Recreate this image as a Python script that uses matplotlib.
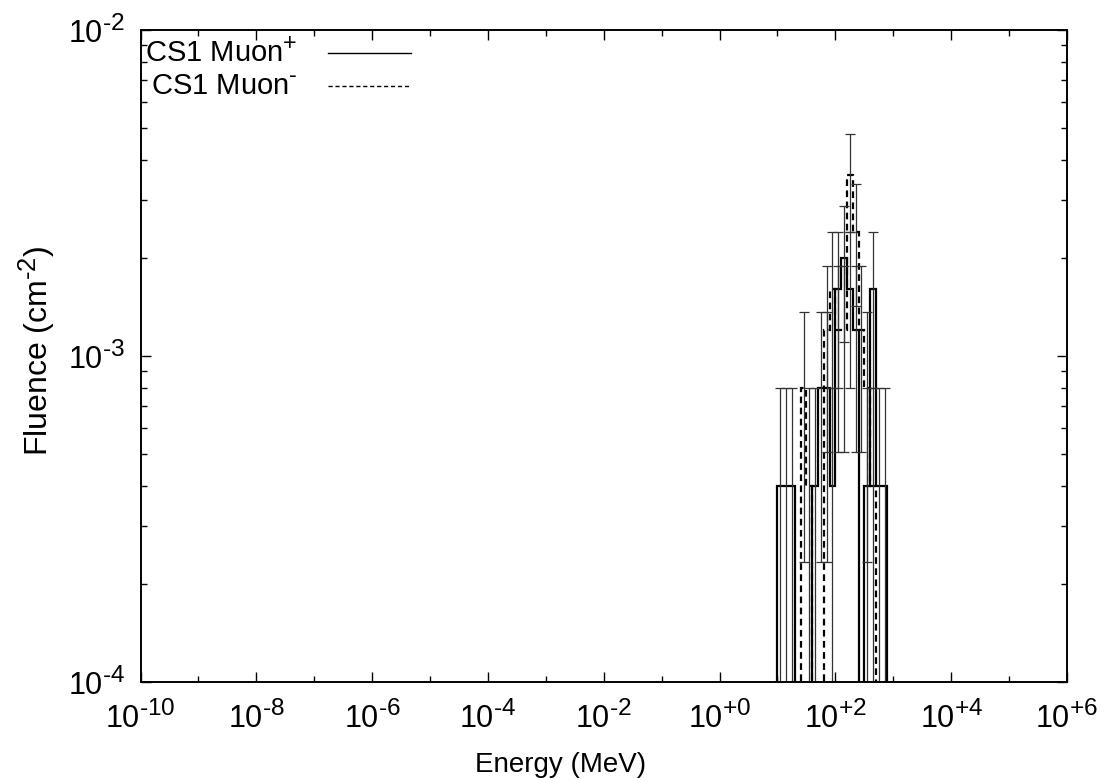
import numpy as np
import matplotlib
matplotlib.use("Agg")
import matplotlib.pyplot as plt
import matplotlib._mathtext as mathtext_impl
from matplotlib.ticker import FixedLocator, FuncFormatter, NullFormatter

plt.rcParams['font.family'] = ['Liberation Sans', 'DejaVu Sans']
plt.rcParams['mathtext.fontset'] = 'custom'
plt.rcParams['mathtext.rm'] = 'Liberation Sans'
plt.rcParams['mathtext.it'] = 'Liberation Sans'
plt.rcParams['mathtext.default'] = 'regular'
# larger exponents, closer to the usual gnuplot look
mathtext_impl.SHRINK_FACTOR = 0.8

W, H = 1106, 780

# energy bins: 10 per decade, 10 MeV .. ~800 MeV
bin_edges = np.logspace(1.0, 2.9, 20)

# fluence per bin (cm^-2)
muon_plus = [4e-4, 4e-4, 4e-4, 0, 0, 0, 4e-4, 8e-4, 8e-4, 4e-4,
             1.6e-3, 2.0e-3, 1.6e-3, 1.2e-3, 0, 4e-4, 1.6e-3, 4e-4, 4e-4]
muon_plus_err = [4e-4, 4e-4, 4e-4, 0, 0, 0, 4e-4, 5.66e-4, 5.66e-4, 4e-4,
                 8e-4, 8.94e-4, 8e-4, 6.93e-4, 0, 4e-4, 8e-4, 4e-4, 4e-4]

muon_minus = [0, 0, 0, 0, 8e-4, 4e-4, 0, 0, 1.2e-3, 1.6e-3,
              1.2e-3, 1.2e-3, 3.6e-3, 2.4e-3, 1.2e-3, 8e-4, 4e-4, 0, 0]
muon_minus_err = [0, 0, 0, 0, 5.66e-4, 4e-4, 0, 0, 6.93e-4, 8e-4,
                  6.93e-4, 6.93e-4, 1.2e-3, 9.8e-4, 6.93e-4, 5.66e-4, 4e-4, 0, 0]

FLOOR = 1e-9  # empty bins drop below the plot

fig = plt.figure(figsize=(W / 100, H / 100), dpi=100)
ax = fig.add_axes([140.5 / W, 1 - 682 / H, (1067 - 140.5) / W, (682 - 30) / H])
ax.set_xscale('log')
ax.set_yscale('log')

centers = np.sqrt(bin_edges[:-1] * bin_edges[1:])


def draw_series(vals, errs, ls):
    vals = np.asarray(vals, dtype=float)
    errs = np.asarray(errs, dtype=float)
    ax.stairs(np.where(vals > 0, vals, FLOOR), bin_edges, baseline=FLOOR,
              color='black', lw=1.6, ls=ls)
    m = vals > 0
    lo = np.minimum(errs[m], vals[m] - FLOOR)
    ax.errorbar(centers[m], vals[m], yerr=[lo, errs[m]], fmt='none',
                ecolor='#333333', elinewidth=0.9, capsize=3.6, capthick=0.9)


draw_series(muon_plus, muon_plus_err, '-')
draw_series(muon_minus, muon_minus_err, (0, (3, 2)))

ax.set_xlim(1e-10, 1e6)
ax.set_ylim(1e-4, 1e-2)

ax.xaxis.set_major_locator(FixedLocator(10.0 ** np.arange(-10, 7, 2)))
ax.xaxis.set_minor_locator(FixedLocator(10.0 ** np.arange(-9, 6, 2)))
ax.yaxis.set_major_locator(FixedLocator([1e-4, 1e-3, 1e-2]))
ax.yaxis.set_minor_locator(FixedLocator(
    [k * 10.0 ** e for e in (-4, -3) for k in range(2, 10)]))


def power_label(v, signed):
    e = int(round(np.log10(v)))
    sign = '+' if e >= 0 else r'\text{-}'
    if e >= 0 and not signed:
        sign = ''
    return r'$10^{%s%d}$' % (sign, abs(e))


ax.xaxis.set_major_formatter(FuncFormatter(lambda v, pos: power_label(v, True)))
ax.yaxis.set_major_formatter(FuncFormatter(lambda v, pos: power_label(v, False)))
ax.xaxis.set_minor_formatter(NullFormatter())
ax.yaxis.set_minor_formatter(NullFormatter())

ax.tick_params(which='both', direction='in', top=True, right=True,
               labelsize=22, width=1.0)
ax.tick_params(which='major', length=7)
ax.tick_params(axis='x', which='major', pad=14)
ax.tick_params(axis='y', which='major', pad=11)
ax.tick_params(which='minor', length=4)
for s in ax.spines.values():
    s.set_linewidth(1.4)

fig.text(561 / W, 1 - 765 / H, 'Energy (MeV)', fontsize=20,
         ha='center', va='center')
fig.text(37 / W, 1 - 351 / H, r'Fluence (cm$^{\text{-}2}$)', fontsize=23,
         rotation=90, ha='center', va='center')

# key in the upper left corner
labels = [r'CS1 Muon$^{+}$', r'CS1 Muon$^{\text{-}}$']
styles = ['-', (0, (3, 2))]
for i, (lab, st) in enumerate(zip(labels, styles)):
    y = 1 - (23 + 33 * i) / 652
    ax.text(157 / 926.5, y, lab, transform=ax.transAxes, ha='right',
            va='center', fontsize=21)
    ax.plot([187 / 926.5, 270 / 926.5], [y, y], transform=ax.transAxes,
            color='black', lw=1.0, ls=st)

fig.savefig('out.png', dpi=100)
